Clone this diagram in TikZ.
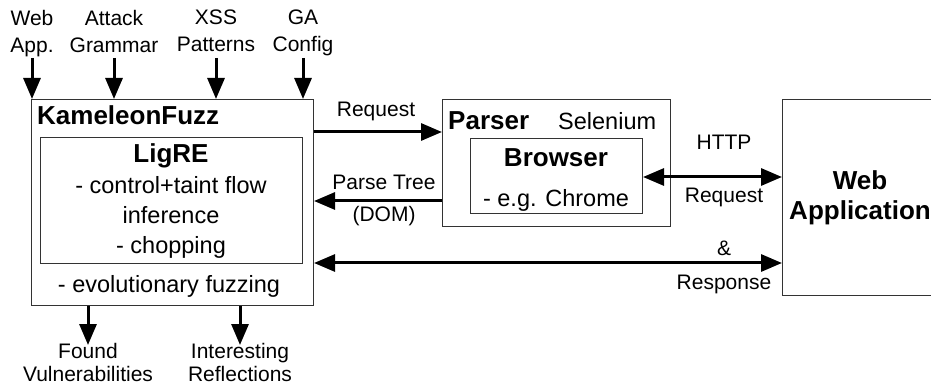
\documentclass[tikz,border=0pt]{standalone}
\usepackage{fontspec}
\setmainfont{Liberation Sans}
\usetikzlibrary{arrows.meta}
\begin{document}
\begin{tikzpicture}[x=1pt,y=-1pt,
  box/.style={draw=black!80, line width=1pt, inner sep=0pt, anchor=north west},
  lbl/.style={font=\fontsize{21}{27}\selectfont, inner sep=0pt, align=center},
  blbl/.style={font=\fontsize{21}{23.5}\selectfont, inner sep=0pt, align=center},
  txt/.style={font=\fontsize{23.5}{30}\selectfont, inner sep=0pt, align=center},
  ttl/.style={font=\fontsize{26}{30}\selectfont\bfseries, inner sep=0pt, align=center},
  arr/.style={line width=3pt, -{Triangle[length=21pt,width=17pt]}},
  darr/.style={line width=3pt, {Triangle[length=21pt,width=17pt]}-{Triangle[length=21pt,width=17pt]}}]
\useasboundingbox (0,0) rectangle (931,387);
% boxes
\node[box, minimum width=282pt, minimum height=206pt] (kf) at (31,99) {};
\node[box, minimum width=262pt, minimum height=126pt] (lig) at (40,137) {};
\node[box, minimum width=228pt, minimum height=127pt] (parser) at (442,99) {};
\node[box, minimum width=172pt, minimum height=75pt] (browser) at (470,138) {};
\node[box, minimum width=190pt, minimum height=196pt] (webapp) at (782,99) {};
% texts in boxes
\node[ttl, anchor=base west] (kft) at (37,125) {KameleonFuzz};
\node[ttl, anchor=base] (ligt) at (171,163) {LigRE};
\node[txt, anchor=north] (ligc) at (171,176) {- control+taint flow\\inference\\- chopping};
\node[txt, anchor=base] (evo) at (169,292) {- evolutionary fuzzing};
\node[ttl, anchor=base west] (part) at (448,130) {Parser};
\node[txt, anchor=base west] (sel) at (558,130) {Selenium};
\node[ttl, anchor=base] (brt) at (556,167) {Browser};
\node[txt, anchor=base] (chr) at (556,207) {- e.g. Chrome};
\node[ttl, anchor=base] (wat) at (860,190) {Web};
\node[ttl, anchor=base] (wat2) at (860,220) {Application};
% input labels
\node[lbl, anchor=north] (in1) at (32,10) {Web\\App.};
\node[lbl, anchor=north] (in2) at (114,10) {Attack\\Grammar};
\node[lbl, anchor=north] (in3) at (216,10) {XSS\\Patterns};
\node[lbl, anchor=north] (in4) at (303,10) {GA\\Config};
% output labels
\node[blbl, anchor=north] (out1) at (88,343) {Found\\Vulnerabilities};
\node[blbl, anchor=north] (out2) at (240,343) {Interesting\\Reflections};
% coordinates
\coordinate (topy) at (0,58);
\coordinate (boty) at (0,345);
\coordinate (yreq) at (0,132);
\coordinate (ypt) at (0,201);
\coordinate (yhttp) at (0,177);
\coordinate (yresp) at (0,263);
% input arrows
\draw[arr] (in1 |- topy) -- (in1 |- kf.north);
\draw[arr] (in2 |- topy) -- (in2 |- kf.north);
\draw[arr] (in3 |- topy) -- (in3 |- kf.north);
\draw[arr] (in4 |- topy) -- (in4 |- kf.north);
% output arrows
\draw[arr] (out1 |- kf.south) -- (out1 |- boty);
\draw[arr] (out2 |- kf.south) -- (out2 |- boty);
% connectors
\draw[arr] (kf.east |- yreq) -- (parser.west |- yreq);
\draw[arr] (parser.west |- ypt) -- (kf.east |- ypt);
\draw[darr] (browser.east |- yhttp) -- (webapp.west |- yhttp);
\draw[darr] (kf.east |- yresp) -- (webapp.west |- yresp);
% connector labels
\node[lbl, anchor=base] (lreq) at (376,117) {Request};
\node[lbl, anchor=base] (lpt) at (384,190) {Parse Tree};
\node[lbl, anchor=base] (ldom) at (384,222) {(DOM)};
\node[lbl, anchor=base] (lhttp) at (724,150) {HTTP};
\node[lbl, anchor=base] (lreq2) at (724,203) {Request};
\node[lbl, anchor=base] (lamp) at (724,255) {\&};
\node[lbl, anchor=base] (lresp) at (724,289) {Response};
\end{tikzpicture}
\end{document}
